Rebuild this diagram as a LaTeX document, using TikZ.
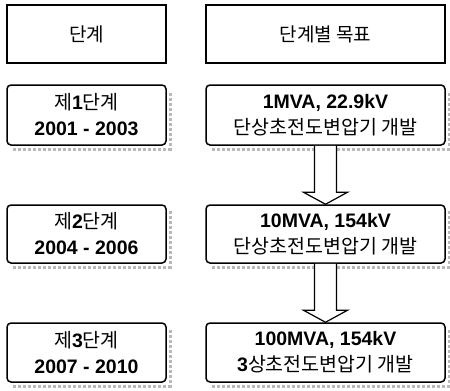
\documentclass[tikz,border=0pt]{standalone}
\usepackage{fontspec}
\setmainfont{Liberation Sans}
\newfontfamily\kr{Noto Sans CJK KR}
\usetikzlibrary{positioning}
\tikzset{
  headbox/.style={draw=black, line width=1.1pt, minimum width=159pt, minimum height=58pt, inner sep=0pt, font=\fontsize{19}{22}\selectfont\kr},
  rowbox/.style={draw=black, line width=1.5pt, rounded corners=4pt, fill=white, inner sep=0pt, align=center, font=\fontsize{19.5}{26}\selectfont},
  shade/.style={draw=gray!55, line width=3pt, dotted},
  blockarrow/.style={draw=black, line width=1.2pt, fill=white, line join=miter}
}
\begin{document}
\begin{tikzpicture}[x=1pt,y=-1pt]
\useasboundingbox (0,0) rectangle (450,391);
% header
\node[headbox, minimum width=159pt] (h1) at (86.5,34) {단계};
\node[headbox, minimum width=239pt] (h2) at (325.5,34) {단계별 목표};
% shadows
\foreach \xa/\xb/\ya/\yb in {7/166/85/145, 206/445/85/145, 7/166/205/263, 206/445/205/263, 7/166/323/382, 206/445/323/382}{
  \draw[shade] (\xa+6,\yb+4) -- (\xb+4,\yb+4) -- (\xb+4,\ya+6);
}
% rows
\node[rowbox, minimum width=159pt, minimum height=60pt] (a1) at (86.5,115) {{\kr 제}\textbf{1}{\kr 단계}\\\textbf{2001 - 2003}};
\node[rowbox, minimum width=239pt, minimum height=60pt] (b1) at (325.5,115) {\textbf{1MVA, 22.9kV}\\{\kr 단상초전도변압기 개발}};
\node[rowbox, minimum width=159pt, minimum height=58pt] (a2) at (86.5,234) {{\kr 제}\textbf{2}{\kr 단계}\\\textbf{2004 - 2006}};
\node[rowbox, minimum width=239pt, minimum height=58pt] (b2) at (325.5,234) {\textbf{10MVA, 154kV}\\{\kr 단상초전도변압기 개발}};
\node[rowbox, minimum width=159pt, minimum height=59pt] (a3) at (86.5,352.5) {{\kr 제}\textbf{3}{\kr 단계}\\\textbf{2007 - 2010}};
\node[rowbox, minimum width=239pt, minimum height=59pt] (b3) at (325.5,352.5) {\textbf{100MVA, 154kV}\\\textbf{3}{\kr 상초전도변압기 개발}};
% block arrows
\foreach \s/\t in {b1/b2, b2/b3}{
  \path (\s.south) coordinate (s0) (\t.north) coordinate (t0);
  \draw[blockarrow] ([xshift=-11pt]s0) -- ([xshift=-11pt,yshift=12pt]t0) -- ([xshift=-22pt,yshift=12pt]t0) -- (t0)
     -- ([xshift=22pt,yshift=12pt]t0) -- ([xshift=11pt,yshift=12pt]t0) -- ([xshift=11pt]s0);
}
\end{tikzpicture}
\end{document}
